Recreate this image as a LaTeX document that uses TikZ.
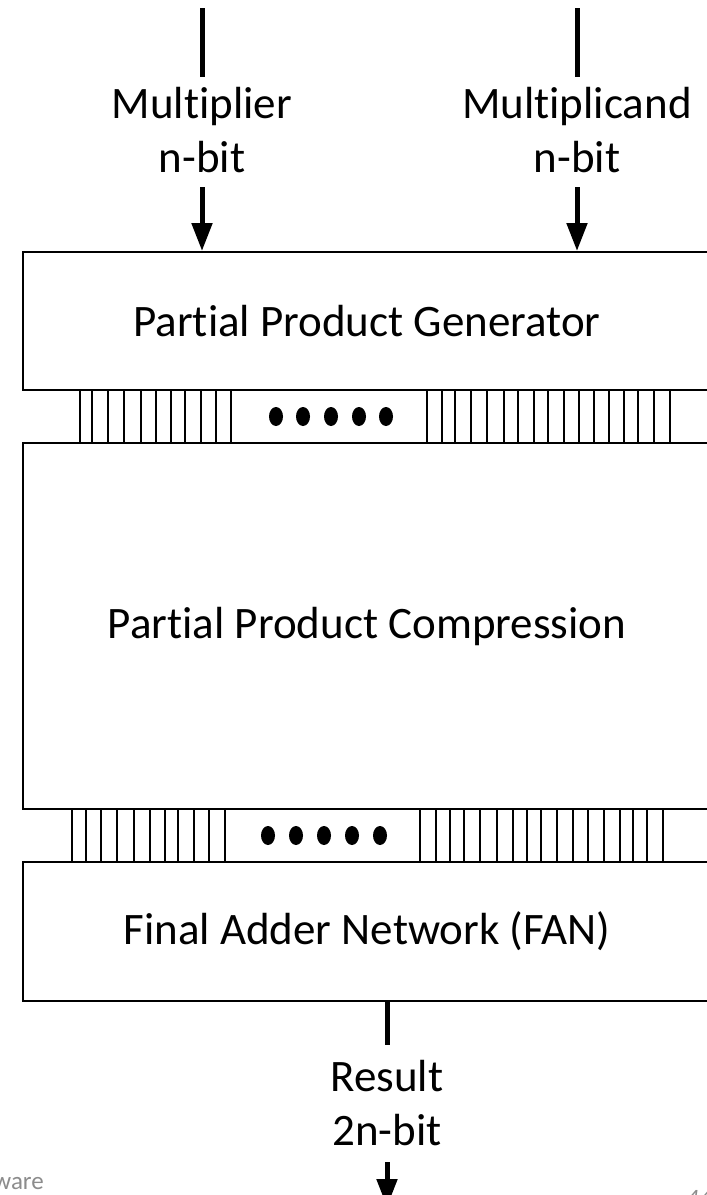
\documentclass[tikz,border=0pt]{standalone}
\usepackage{fontspec}
\setmainfont{Carlito}[Ligatures={NoCommon,NoRequired,NoContextual}]
\usetikzlibrary{arrows.meta}
\begin{document}
\begin{tikzpicture}[x=1pt,y=-1pt,
  blk/.style={draw, line width=2pt, minimum width=688pt, inner sep=0pt,
              font=\fontsize{45}{54}\selectfont},
  lbl/.style={font=\fontsize{45}{54}\selectfont, inner sep=0pt, anchor=base},
  wire/.style={line width=5pt},
  arr/.style={line width=5pt, -{Triangle[length=28pt,width=20pt]}},
  busline/.style={line width=1.3pt},
  bdot/.style={fill=black},
  slide/.style={text=black!45, inner sep=0pt, font=\fontsize{25}{30}\selectfont}]
\useasboundingbox (0,0) rectangle (707,1195);
\clip (0,0) rectangle (707,1195);

% blocks
\node[blk, minimum height=138pt] (ppg) at (367,321) {Partial Product Generator};
\node[blk, minimum height=366pt] (ppc) at (367,626) {Partial Product Compression};
\node[blk, minimum height=139pt] (fan) at (367,931.5) {Final Adder Network (FAN)};

% inputs
\coordinate (mtop) at (202,8);   \coordinate (mbot) at (202,77);
\coordinate (ctop) at (577,8);   \coordinate (cbot) at (577,77);
\coordinate (marr) at (202,187); \coordinate (carr) at (577,187);
\draw[wire] (mtop) -- (mbot);
\draw[wire] (ctop) -- (cbot);
\node[lbl] (mname) at (202,118) {Multiplier};
\node[lbl] (mbits) at (202,172) {n-bit};
\node[lbl] (cname) at (577,118) {Multiplicand};
\node[lbl] (cbits) at (577,172) {n-bit};
\draw[arr] (marr) -- (marr |- ppg.north);
\draw[arr] (carr) -- (carr |- ppg.north);

% bus 1
\foreach \x in {80,92,108,124,141,156,171,185,201,216,231,
                427,442,455,471,487,504,518,534,548,564,579,594,609,624,638,654,670}
  \draw[busline] (\x,0 |- ppg.south) -- (\x,0 |- ppc.north);
\foreach \x in {276,303,331,359,386}
  \fill[bdot] (\x,416.5) ellipse [x radius=7pt, y radius=9.5pt];

% bus 2
\foreach \x in {72,86,101,117,134,150,165,178,194,209,225,
                420,436,450,464,480,497,513,527,541,557,573,588,604,620,633,647,663}
  \draw[busline] (\x,0 |- ppc.south) -- (\x,0 |- fan.north);
\foreach \x in {268,296,324,352,380}
  \fill[bdot] (\x,835.5) ellipse [x radius=7pt, y radius=9.5pt];

% output
\coordinate (rbot) at (387,1045);
\coordinate (rarr) at (387,1162);
\coordinate (rend) at (387,1207);
\draw[wire] (rbot |- fan.south) -- (rbot);
\node[lbl] (rname) at (387,1091) {Result};
\node[lbl] (rbits) at (387,1145) {2n-bit};
\draw[arr] (rarr) -- (rend);

% slide residue
\node[slide, anchor=base east] (sw) at (44,1189) {ware};
\node[slide, anchor=base west] (pg) at (686,1206) {\itshape 44};
\end{tikzpicture}
\end{document}
